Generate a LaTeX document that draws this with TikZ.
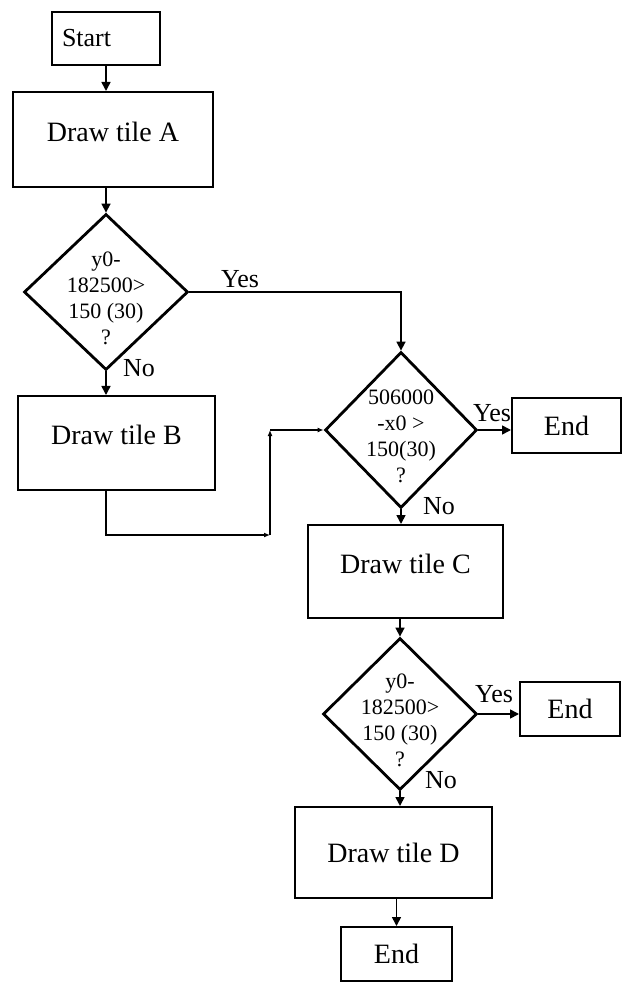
\documentclass[tikz,border=0pt]{standalone}
\usepackage{fontspec}
\setmainfont{Liberation Serif}
\usepackage{tikz}
\usetikzlibrary{shapes.geometric, arrows.meta, positioning, calc}

\tikzset{
  box/.style={draw, line width=1pt, inner sep=0pt, font=\fontsize{14}{16}\selectfont},
  tile/.style={box, text depth=8pt},
  dec/.style={draw, diamond, line width=1.4pt, inner sep=0pt},
  dectext/.style={align=center, inner sep=0pt, font=\fontsize{11}{13}\selectfont, yshift=-3pt},
  lbl/.style={inner sep=0pt, font=\fontsize{13}{15}\selectfont},
  line/.style={line width=0.8pt, -{Triangle[length=4.5pt, width=4.5pt]}},
  hop/.style={line width=0.8pt, -{Latex[length=3pt, width=2.5pt]}}
}

\begin{document}
\begin{tikzpicture}[x=0.5pt, y=-0.5pt]
  \useasboundingbox (0,0) rectangle (622,983);

  % left column
  \node[box, minimum width=54pt, minimum height=26.5pt, text width=44pt, inner xsep=5pt, align=left, font=\fontsize{13}{15}\selectfont] (start) at (106,38.5) {Start};
  \node[tile, minimum width=100pt, minimum height=47.5pt] (tileA) at (113,139.5) {Draw tile A};
  \node[dec, minimum width=82pt, minimum height=78pt, label={[dectext]center:{y0-\\182500>\\150 (30)\\?}}] (test1) at (106,292) {};
  \node[tile, minimum width=98.5pt, minimum height=47pt] (tileB) at (116.5,443) {Draw tile B};

  % right column
  \node[dec, minimum width=76pt, minimum height=78pt, label={[dectext]center:{506000\\-x0 >\\150(30)\\?}}] (test2) at (401,430) {};
  \node[box, minimum width=54.5pt, minimum height=27.5pt] (end1) at (566.5,425.5) {End};
  \node[tile, minimum width=97.5pt, minimum height=46.5pt] (tileC) at (405.5,571.5) {Draw tile C};
  \node[dec, minimum width=77pt, minimum height=76pt, label={[dectext]center:{y0-\\182500>\\150 (30)\\?}}] (test3) at (400,714) {};
  \node[box, minimum width=50pt, minimum height=27pt] (end2) at (570,709) {End};
  \node[box, minimum width=98.5pt, minimum height=45.5pt] (tileD) at (393.5,852.5) {Draw tile D};
  \node[box, minimum width=55.5pt, minimum height=27pt] (end3) at (396.5,954) {End};

  % yes / no
  \node[lbl] (yes1) at (240,279) {Yes};
  \node[lbl] (no1) at (139,368) {No};
  \node[lbl] (yes2) at (492,413) {Yes};
  \node[lbl] (no2) at (439,506) {No};
  \node[lbl] (yes3) at (494,694) {Yes};
  \node[lbl] (no3) at (441,780) {No};

  \draw[line] (start.south) -- (start.south |- tileA.north);
  \draw[line] (test1.north |- tileA.south) -- (test1.north);
  \draw[line] (test1.south) -- (test1.south |- tileB.north);
  \draw[line] (test1.east) -| (test2.north);

  \coordinate (k1) at (270,535);
  \coordinate (k2) at (k1 |- test2.west);
  \draw[hop] (test1.south |- tileB.south) |- (k1);
  \draw[hop] (k1) -- (k2);
  \draw[hop] (k2) -- (test2.west);

  \draw[line] (test2.east) -- (test2.east -| end1.west);
  \draw[line] (test2.south) -- (test2.south |- tileC.north);
  \draw[line] (test3.north |- tileC.south) -- (test3.north);
  \draw[line] (test3.east) -- (test3.east -| end2.west);
  \draw[line] (test3.south) -- (test3.south |- tileD.north);
  \draw[line] (end3.north |- tileD.south) -- (end3.north);
\end{tikzpicture}
\end{document}
